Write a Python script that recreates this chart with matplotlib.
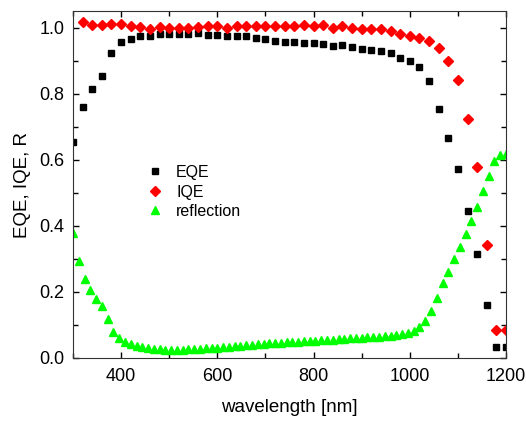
import matplotlib
matplotlib.use("Agg")
import matplotlib.pyplot as plt
import numpy as np
from matplotlib.ticker import MultipleLocator

plt.rcParams["font.family"] = ["Liberation Sans", "DejaVu Sans"]

# EQE / IQE measured every 20 nm
wl_eqe = np.arange(300, 1201, 20)
eqe = [0.655, 0.760, 0.815, 0.854, 0.924, 0.957, 0.965, 0.975, 0.973, 0.980,
       0.980, 0.980, 0.980, 0.982, 0.978, 0.978, 0.973, 0.975, 0.973, 0.969,
       0.965, 0.959, 0.956, 0.956, 0.954, 0.952, 0.950, 0.944, 0.947, 0.940,
       0.936, 0.932, 0.928, 0.922, 0.908, 0.899, 0.880, 0.837, 0.754, 0.667,
       0.571, 0.444, 0.314, 0.161, 0.034, 0.034]

wl_iqe = np.arange(320, 1201, 20)
iqe = [1.016, 1.009, 1.009, 1.012, 1.010, 1.004, 1.003, 0.996, 1.001, 1.000,
       1.000, 0.999, 1.003, 1.004, 1.005, 1.000, 1.006, 1.006, 1.005, 1.005,
       1.005, 1.005, 1.006, 1.007, 1.006, 1.007, 1.000, 1.006, 0.999, 0.997,
       0.995, 0.995, 0.989, 0.979, 0.973, 0.967, 0.959, 0.937, 0.899, 0.842,
       0.723, 0.577, 0.343, 0.086, 0.086]

# reflection measured every 12 nm
wl_refl = np.arange(300, 1201, 12)
refl = [0.377, 0.294, 0.240, 0.207, 0.177, 0.157, 0.118, 0.080, 0.059, 0.048,
        0.041, 0.036, 0.033, 0.030, 0.028, 0.026, 0.025, 0.024, 0.024, 0.025,
        0.026, 0.027, 0.028, 0.029, 0.030, 0.031, 0.032, 0.034, 0.035, 0.037,
        0.038, 0.040, 0.041, 0.043, 0.044, 0.045, 0.046, 0.047, 0.048, 0.049,
        0.050, 0.051, 0.052, 0.053, 0.054, 0.055, 0.056, 0.058, 0.059, 0.060,
        0.061, 0.062, 0.063, 0.065, 0.066, 0.068, 0.070, 0.072, 0.076,
        0.083, 0.093, 0.113, 0.141, 0.182, 0.226, 0.261, 0.299, 0.336, 0.374,
        0.415, 0.457, 0.506, 0.550, 0.596, 0.614, 0.618]

fig = plt.figure(figsize=(5.26, 4.24), dpi=100)
ax = fig.add_axes([0.1388, 0.1557, 0.8232, 0.8183])

ax.plot(wl_eqe, eqe, "s", color="black", ms=5, mec="black", label="EQE")
ax.plot(wl_iqe, iqe, "D", color="#ff0000", ms=5.5, mec="#ff0000", label="IQE")
ax.plot(wl_refl, refl, "^", color="#00ff00", ms=6, mec="#00ff00", label="reflection")

ax.set_xlim(300, 1200)
ax.set_ylim(0, 1.05)
ax.xaxis.set_major_locator(MultipleLocator(200))
ax.xaxis.set_minor_locator(MultipleLocator(100))
ax.yaxis.set_major_locator(MultipleLocator(0.2))
ax.yaxis.set_minor_locator(MultipleLocator(0.1))
ax.yaxis.set_major_formatter(matplotlib.ticker.FormatStrFormatter("%.1f"))
ax.tick_params(which="both", direction="in", top=True, right=True, labelsize=13)
ax.tick_params(which="major", length=4.5, width=1)
ax.tick_params(which="minor", length=3.5, width=1)
ax.tick_params(axis="x", pad=7)
ax.tick_params(axis="y", pad=6)
for sp in ax.spines.values():
    sp.set_color("#333333")

ax.set_xlabel("wavelength [nm]", fontsize=13.5, labelpad=10)
ax.set_ylabel("EQE, IQE, R", fontsize=13.5, labelpad=6)

ax.legend(loc="upper left", bbox_to_anchor=(0.172, 0.556), frameon=False,
          borderpad=0, borderaxespad=0, handlelength=1, handletextpad=0.8,
          labelspacing=0.28, fontsize=11.5)

fig.savefig("out.png", dpi=100)
